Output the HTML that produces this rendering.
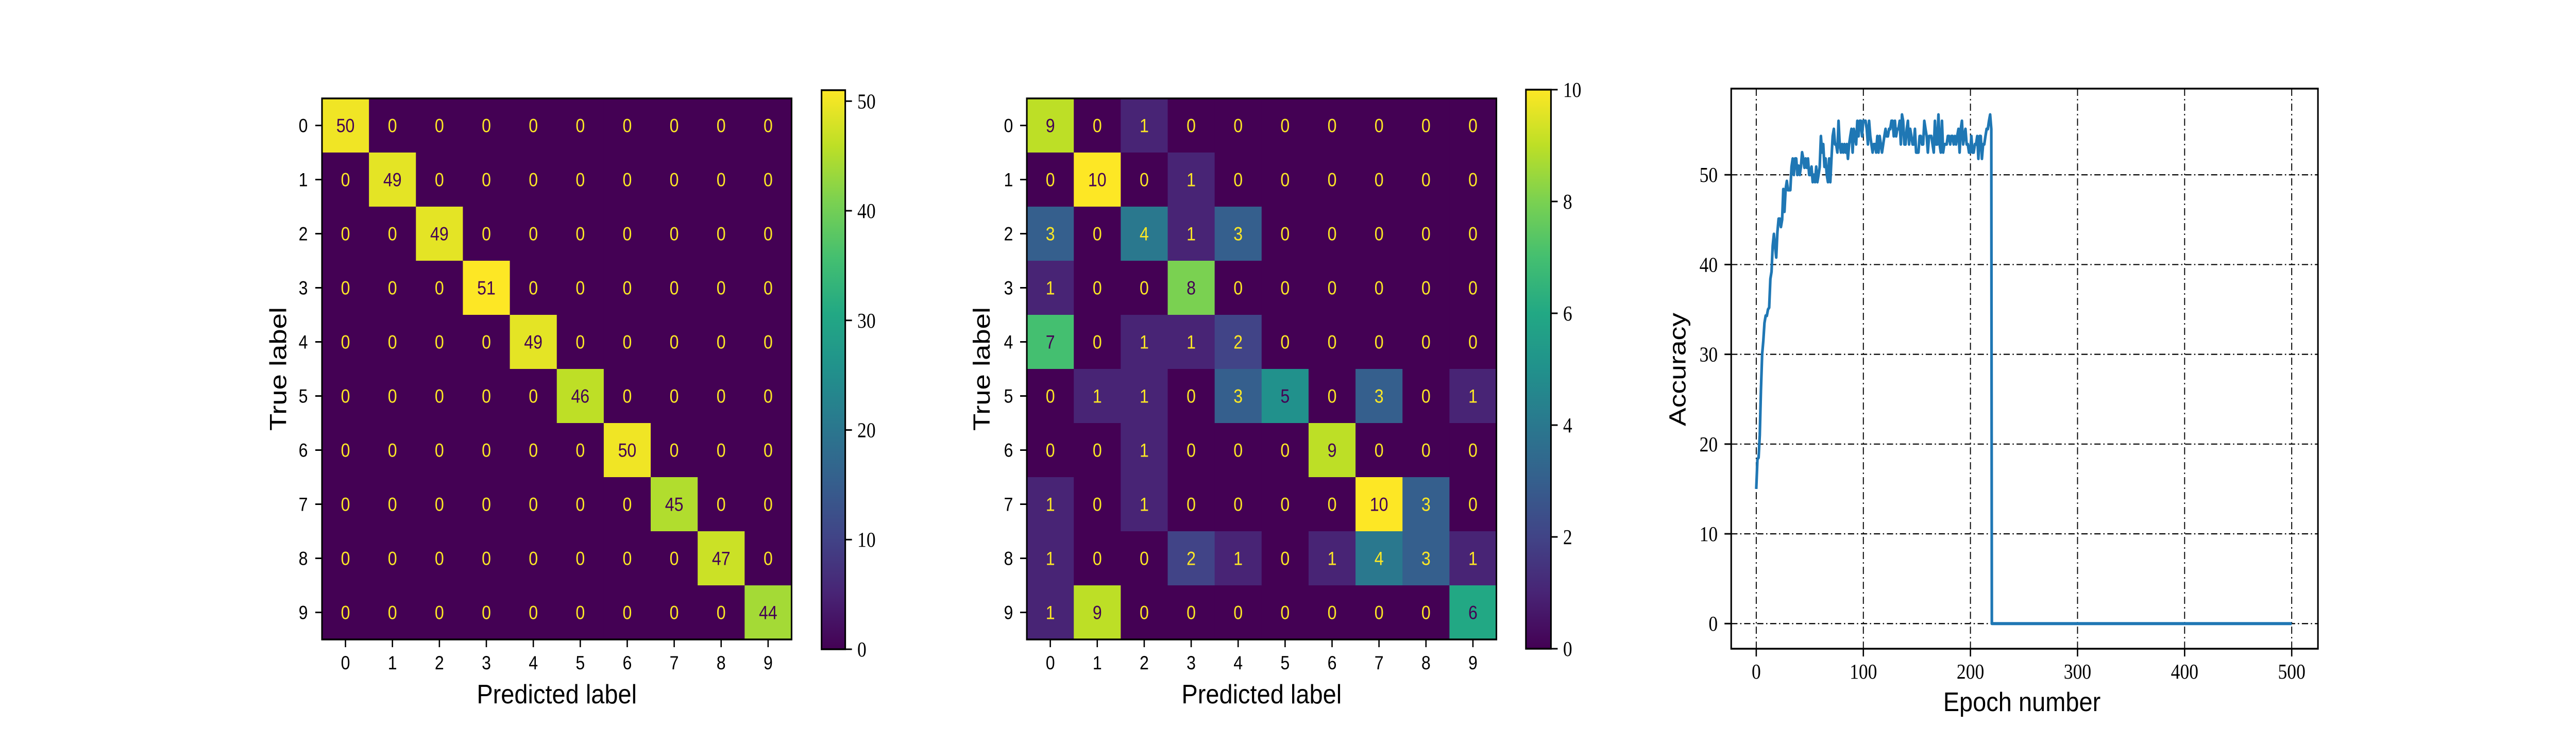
<!DOCTYPE html>
<html><head><meta charset="utf-8"><style>
html,body{margin:0;padding:0;background:#fff;overflow:hidden;width:100vw;height:100vh;}
svg{display:block;width:100vw;height:100vh;}
.ts{font-family:"Liberation Sans",sans-serif;}
.tr{font-family:"Liberation Serif",serif;}
</style></head><body>
<svg id="fig" xmlns="http://www.w3.org/2000/svg" viewBox="0 0 5760 1440" preserveAspectRatio="none">
<defs>
<linearGradient id="vir" x1="0" y1="1" x2="0" y2="0">
<stop offset="0" stop-color="#440154"/><stop offset="0.1" stop-color="#482475"/><stop offset="0.2" stop-color="#414487"/><stop offset="0.3" stop-color="#355f8d"/><stop offset="0.4" stop-color="#2a788e"/><stop offset="0.5" stop-color="#21918c"/><stop offset="0.6" stop-color="#22a884"/><stop offset="0.7" stop-color="#44bf70"/><stop offset="0.8" stop-color="#7ad151"/><stop offset="0.9" stop-color="#bddf26"/><stop offset="1" stop-color="#fde725"/>
</linearGradient>
</defs>
</svg>
<script>
// ---------- data ----------
const classLabels = ["0","1","2","3","4","5","6","7","8","9"];
const matrixA = [
[50,0,0,0,0,0,0,0,0,0],
[0,49,0,0,0,0,0,0,0,0],
[0,0,49,0,0,0,0,0,0,0],
[0,0,0,51,0,0,0,0,0,0],
[0,0,0,0,49,0,0,0,0,0],
[0,0,0,0,0,46,0,0,0,0],
[0,0,0,0,0,0,50,0,0,0],
[0,0,0,0,0,0,0,45,0,0],
[0,0,0,0,0,0,0,0,47,0],
[0,0,0,0,0,0,0,0,0,44]];
const matrixB = [
[9,0,1,0,0,0,0,0,0,0],
[0,10,0,1,0,0,0,0,0,0],
[3,0,4,1,3,0,0,0,0,0],
[1,0,0,8,0,0,0,0,0,0],
[7,0,1,1,2,0,0,0,0,0],
[0,1,1,0,3,5,0,3,0,1],
[0,0,1,0,0,0,9,0,0,0],
[1,0,1,0,0,0,0,10,3,0],
[1,0,0,2,1,0,1,4,3,1],
[1,9,0,0,0,0,0,0,0,6]];
const cbTicksA = [0,10,20,30,40,50];
const cbTicksB = [0,2,4,6,8,10];
const accValues = [15,18.3,18.5,21,26,30,31.5,33.5,34.3,34.3,35,
35.2,38.4,39.2,42.1,43.4,42,40.8,43.6,45.1,45.1,44.2,45,48.4,45.9,48.4,49.3,48.3,48.3,48.3,
50.9,51.8,50,51.8,51.8,50,51,50,50.9,52.5,51.8,50.8,51.8,50.8,51.8,50,50,50.9,49.2,50,
49.2,50.9,49.2,50,50.9,54.3,52.5,53.4,50.9,51.8,50,49.2,51.8,49.2,51.8,54.3,55.1,53.4,53.4,52.5,
56,53.4,52.5,53.4,52.5,53.4,52.5,53.4,51.8,53.4,54.3,55.1,52.5,55.1,54.3,53.4,56,54.3,56,56,
54.3,56,56,56,55.1,53.4,56,54.3,53.4,52.5,53.4,53.4,52.5,54.3,52.5,54.3,53.4,52.5,53.4,54.3,
55.1,54.3,54.3,55.1,55.1,56,56,54.3,56,54.3,55.1,55.1,56,53.4,56.7,56,53.4,53.4,55.1,56,
53.4,55.1,54.3,53.4,53.4,55.1,52.5,52.5,52.5,54.3,54.3,53.4,53.4,56,55.1,54.3,52.5,54.3,54.3,54.3,
53.4,52.5,56,53.4,53.4,56.7,53.4,52.5,56,52.5,53.4,53.4,53.4,54.3,54.3,53.4,54.3,54.3,53.4,54.3,
53.4,54.3,55.1,52.5,55.1,56,53.4,54.3,55.1,53.4,53.4,52.5,52.5,54.3,52.5,52.5,53.4,53.4,54.3,51.8,
54.3,54.3,51.8,53.4,53.4,54.3,55.1,55.1,56,56.7,55.1];
const accLastEpoch = 219.5;
const tailEpochs = [220,500];
const tailValues = [0,0];
const xTicks = [0,100,200,300,400,500];
const yTicks = [0,10,20,30,40,50];

// ---------- helpers ----------
const NS="http://www.w3.org/2000/svg";
const svg=document.getElementById('fig');
function mk(tag,attrs,parent){const e=document.createElementNS(NS,tag);for(const k in attrs)e.setAttribute(k,attrs[k]);(parent||svg).appendChild(e);return e;}
const VIR=["#440154","#482475","#414487","#355f8d","#2a788e","#21918c","#22a884","#44bf70","#7ad151","#bddf26","#fde725"];
function hex(h){return [1,3,5].map(i=>parseInt(h.substr(i,2),16));}
function viridis(t){t=Math.max(0,Math.min(1,t));const p=t*10,i=Math.min(9,Math.floor(p)),f=p-i;const a=hex(VIR[i]),b=hex(VIR[i+1]);return "rgb("+a.map((v,k)=>Math.round(v+(b[k]-v)*f)).join(",")+")";}

function confusion(name,M,vmax,x0,y0,cell,cbX,cbW,cbTop,cbBot,cbTicks,ylabX,trueLabelX){
  const g=mk('g',{});
  
  
  const W=cell*10;
  const xs=c=>x0+cell*(c+0.5), ys=r=>y0+cell*(r+0.5);
  const thresh=vmax/2;
  M.forEach((row,r)=>row.forEach((v,c)=>{
    const rc=mk('rect',{x:x0+c*cell,y:y0+r*cell,width:cell+0.6,height:cell+0.6,fill:viridis(v/vmax)},g);
    
    
    const t=mk('text',{x:xs(c),y:ys(r)+13,'text-anchor':'middle','font-size':37,class:'ts',fill:v<thresh?"#fde725":"#440154"},g);
    t.textContent=v;
    
    
  }));
  mk('rect',{x:x0,y:y0,width:W,height:W,fill:'none',stroke:'#000','stroke-width':3.5},g);
  classLabels.forEach((lab,i)=>{
    mk('line',{x1:xs(i),y1:y0+W,x2:xs(i),y2:y0+W+15,stroke:'#000','stroke-width':3},g);
    const tx=mk('text',{x:xs(i),y:y0+W+58,'text-anchor':'middle','font-size':37,class:'ts'},g);
    tx.textContent=lab;
    
    
    mk('line',{x1:x0-15,y1:ys(i),x2:x0,y2:ys(i),stroke:'#000','stroke-width':3},g);
    const ty=mk('text',{x:ylabX,y:ys(i)+13,'text-anchor':'middle','font-size':37,class:'ts'},g);
    ty.textContent=lab;
    
    
  });
  const xl=mk('text',{x:x0+W/2,y:y0+W+124,'text-anchor':'middle','font-size':52,class:'ts',textLength:358,lengthAdjust:'spacingAndGlyphs'},g);
  xl.textContent='Predicted label';
  
  
  const yl=mk('text',{x:0,y:0,'text-anchor':'middle','font-size':52,class:'ts',textLength:240,lengthAdjust:'spacingAndGlyphs',transform:`translate(${trueLabelX+18},${y0+W/2}) rotate(-90)`},g);
  yl.textContent='True label';
  
  
  const cb=mk('rect',{x:cbX,y:cbTop,width:cbW,height:cbBot-cbTop,fill:'url(#vir)',stroke:'#000','stroke-width':3.5},g);
  
  
  const cy=v=>cbBot-(cbBot-cbTop)*v/vmax;
  cbTicks.forEach(v=>{
    mk('line',{x1:cbX+cbW,y1:cy(v),x2:cbX+cbW+15,y2:cy(v),stroke:'#000','stroke-width':3},g);
    const t=mk('text',{x:cbX+cbW+27,y:cy(v)+14,'font-size':41,class:'tr'},g);
    t.textContent=v;
    
    
  });
}
confusion('confusion-matrix-train',matrixA,51,720,191,105,1837,53,175,1260,cbTicksA,678,622);
confusion('confusion-matrix-test',matrixB,10,2296,191,105,3412,56,174,1259,cbTicksB,2255,2195);

(function(){
  const g=mk('g',{});
  
  
  const L=3871,R=5183,T=172,B=1259;
  const xMin=-23.4,xMax=524.5,yMin=-2.8,yMax=59.6;
  const X=v=>L+(v-xMin)/(xMax-xMin)*(R-L);
  const Y=v=>B-(v-yMin)/(yMax-yMin)*(B-T);
  xTicks.forEach(v=>{
    const gl=mk('line',{x1:X(v),y1:T,x2:X(v),y2:B,stroke:'#000','stroke-width':2.2,'stroke-dasharray':'14 6 3 6'},g);
    
    
    mk('line',{x1:X(v),y1:B,x2:X(v),y2:B+15,stroke:'#000','stroke-width':3},g);
    const t=mk('text',{x:X(v),y:B+58,'text-anchor':'middle','font-size':41,class:'tr'},g);
    t.textContent=v;
    
    
  });
  yTicks.forEach(v=>{
    const gl=mk('line',{x1:L,y1:Y(v),x2:R,y2:Y(v),stroke:'#000','stroke-width':2.2,'stroke-dasharray':'14 6 3 6'},g);
    
    
    mk('line',{x1:L-15,y1:Y(v),x2:L,y2:Y(v),stroke:'#000','stroke-width':3},g);
    const t=mk('text',{x:L-30,y:Y(v)+14,'text-anchor':'end','font-size':41,class:'tr'},g);
    t.textContent=v;
    
    
  });
  const n=accValues.length;
  const pts=accValues.map((v,i)=>[X(i*accLastEpoch/(n-1)),Y(v)]);
  tailEpochs.forEach((e,i)=>pts.push([X(e),Y(tailValues[i])]));
  const line=mk('polyline',{points:pts.map(p=>p[0].toFixed(1)+','+p[1].toFixed(1)).join(' '),fill:'none',stroke:'#1f77b4','stroke-width':6,'stroke-linejoin':'round'},g);
  
  
  mk('rect',{x:L,y:T,width:R-L,height:B-T,fill:'none',stroke:'#000','stroke-width':3.5},g);
  const xl=mk('text',{x:(L+R)/2-6,y:1380,'text-anchor':'middle','font-size':52,class:'ts',textLength:352,lengthAdjust:'spacingAndGlyphs'},g);
  xl.textContent='Epoch number';
  
  
  const yl=mk('text',{x:0,y:0,'text-anchor':'middle','font-size':52,class:'ts',textLength:220,lengthAdjust:'spacingAndGlyphs',transform:`translate(3769,717) rotate(-90)`},g);
  yl.textContent='Accuracy';
  
  
})();
</script>
</body></html>
